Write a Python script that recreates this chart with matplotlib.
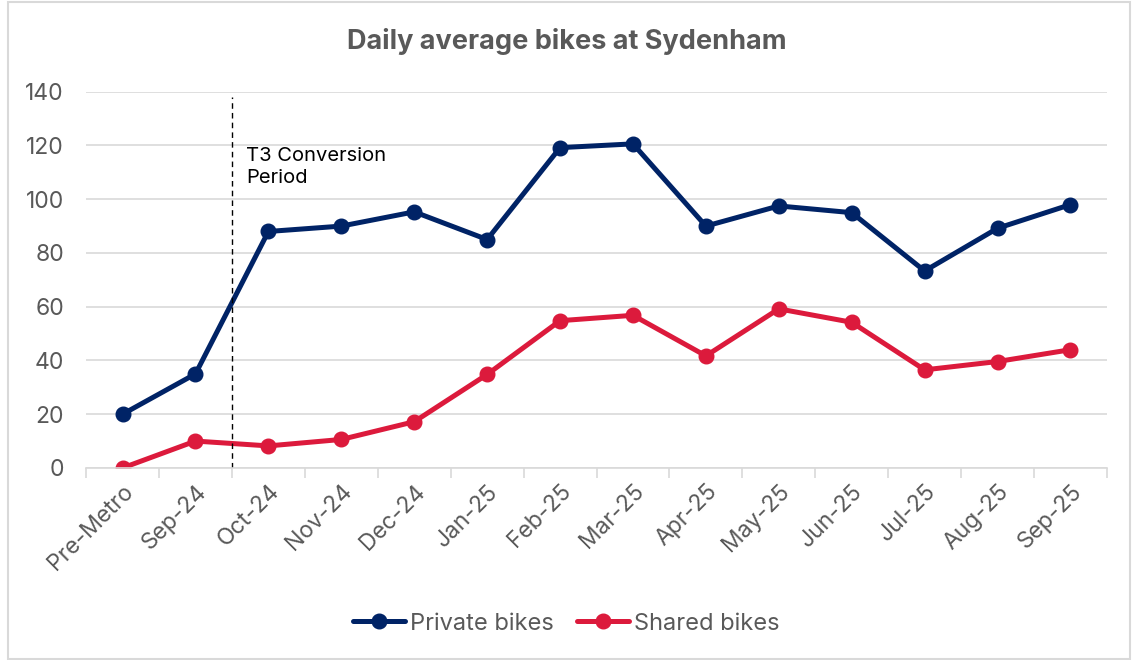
import matplotlib.pyplot as plt
from matplotlib.patches import Rectangle

# Data
months = ["Pre-Metro", "Sep-24", "Oct-24", "Nov-24", "Dec-24", "Jan-25", "Feb-25",
          "Mar-25", "Apr-25", "May-25", "Jun-25", "Jul-25", "Aug-25", "Sep-25"]
private_bikes = [20, 35, 88, 90, 95.3, 85, 119.2, 120.6, 90, 97.5, 95, 73.3, 89.2, 98]
shared_bikes = [0, 10, 8.2, 10.6, 17.2, 34.8, 54.8, 56.8, 41.7, 59.2, 54.2, 36.5, 39.6, 44]

plt.rcParams["font.family"] = ["Inter", "DejaVu Sans"]
grey = "#595959"

fig = plt.figure(figsize=(11.33, 6.6), dpi=100)
ax = fig.add_axes([0.076, 0.291, 0.901, 0.570])

x = list(range(len(months)))
ax.plot(x, private_bikes, color="#002366", lw=3.6, marker="o", ms=10.5,
        label="Private bikes", solid_capstyle="round")
ax.plot(x, shared_bikes, color="#DC1A3C", lw=3.6, marker="o", ms=10.5,
        label="Shared bikes", solid_capstyle="round")

ax.set_xlim(-0.5, len(months) - 0.5)
ax.set_ylim(0, 140)
ax.set_yticks(range(0, 141, 20))
ax.grid(axis="y", color="#d9d9d9", lw=1.2)
ax.set_axisbelow(True)

ax.set_xticks(x)
ax.set_xticklabels(months, rotation=45, ha="right", rotation_mode="anchor")
ax.set_xticks([i - 0.5 for i in range(len(months) + 1)], minor=True)
ax.tick_params(axis="x", which="major", length=0, pad=9, labelsize=16.5, labelcolor=grey)
ax.tick_params(axis="x", which="minor", length=7, color="#d9d9d9", width=1.2)
ax.tick_params(axis="y", length=0, pad=16, labelsize=16.5, labelcolor=grey)
for side in ["top", "right", "left"]:
    ax.spines[side].set_visible(False)
ax.spines["bottom"].set_color("#d9d9d9")
ax.spines["bottom"].set_linewidth(1.2)

# conversion period marker
ax.plot([1.5, 1.5], [0, 138], color="black", lw=1, ls=(0, (4, 3)))
ax.text(1.69, 112, "T3 Conversion\nPeriod", fontsize=14.5, va="center", ha="left",
        color="black", linespacing=1.25)

fig.suptitle("Daily average bikes at Sydenham", x=0.5, y=0.957, fontsize=19.5,
             fontweight="bold", color=grey)

fig.legend(loc="center", bbox_to_anchor=(0.5, 0.055), ncol=2, frameon=False,
           fontsize=17, labelcolor=grey, handlelength=2.2, handletextpad=0.2,
           columnspacing=1.0)

fig.patches.append(Rectangle((0.007, 0.002), 0.99, 0.995, transform=fig.transFigure,
                             fill=False, edgecolor="#d9d9d9", lw=1.5))

fig.savefig("out.png", dpi=100)
